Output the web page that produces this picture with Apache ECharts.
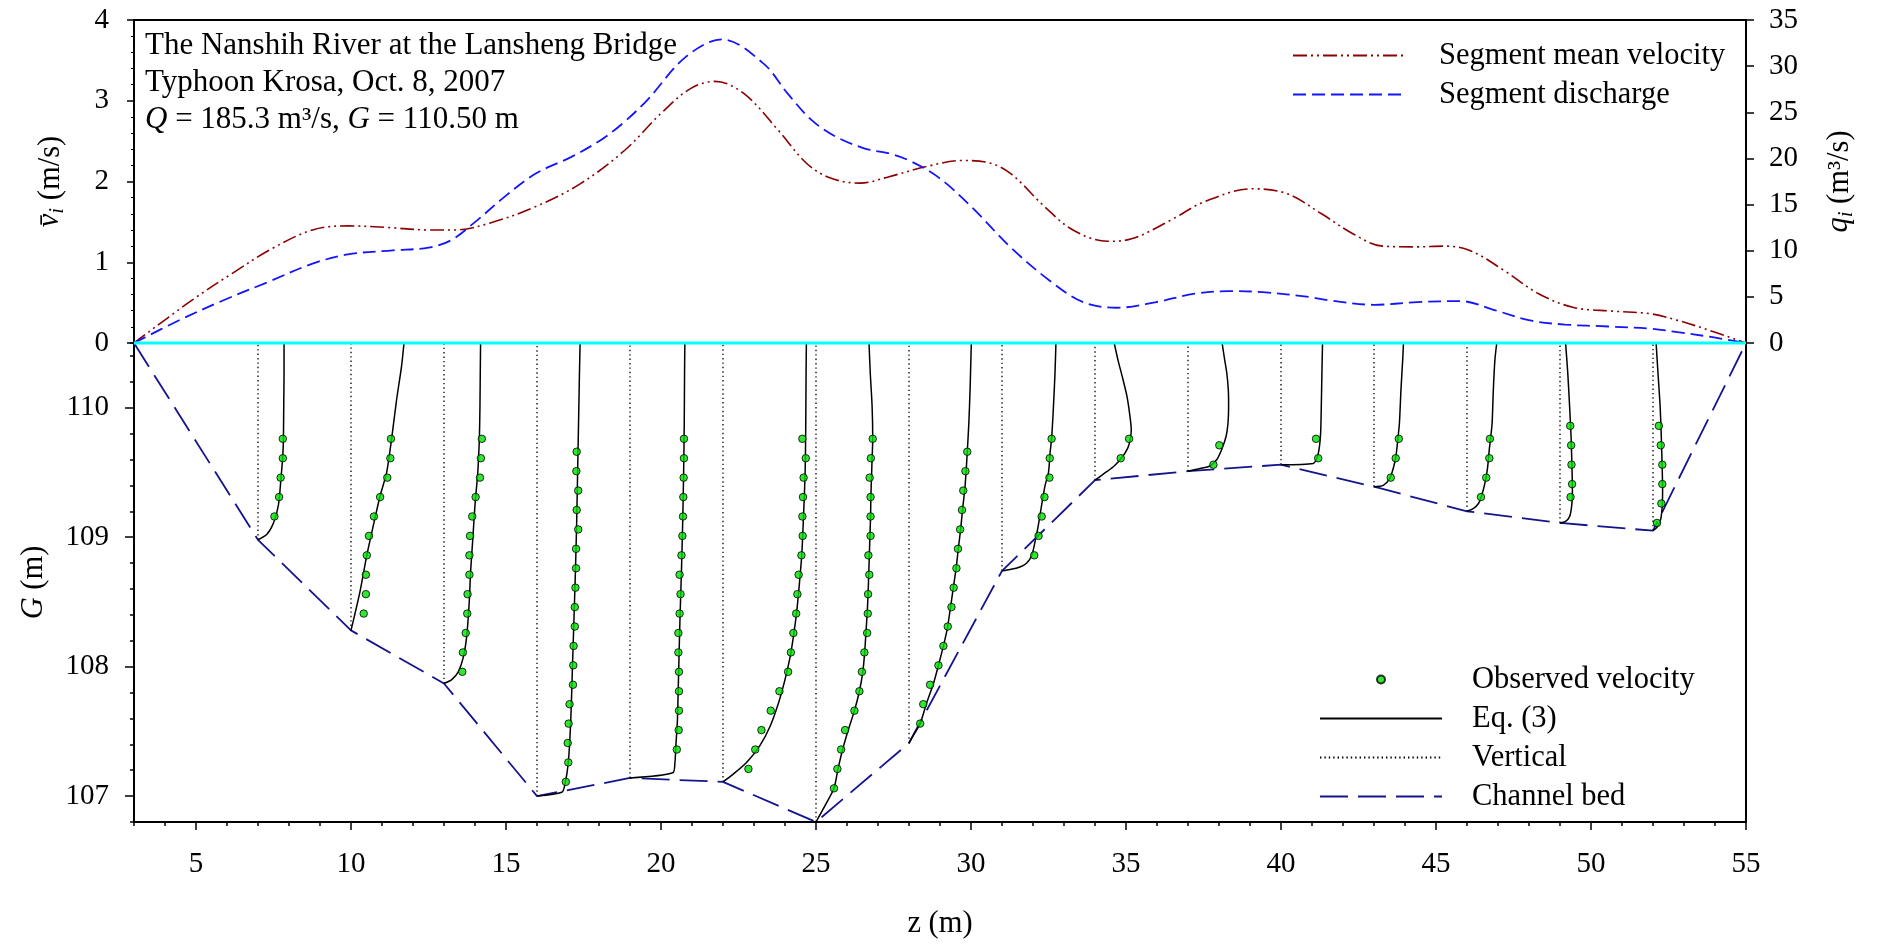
<!DOCTYPE html>
<html>
<head>
<meta charset="utf-8">
<script src="https://cdn.jsdelivr.net/npm/echarts@6.0.0/dist/echarts.min.js"></script>
<style>
  html, body { margin: 0; padding: 0; background: #fff; }
  #chart { width: 1881px; height: 944px; }
</style>
</head>
<body>
<div id="chart"></div>
<script>
// ---- Axis ranges and tick labels ----
const zRange = [3, 55];
const zLabels = [5, 10, 15, 20, 25, 30, 35, 40, 45, 50, 55];
const vRange = [0, 4];
const qRange = [0, 35];
const gRange = [106.8, 110.5];
const gLabels = [107, 108, 109, 110];
const waterLevel = 110.5;

// ---- Channel bed (z, G) ----
const bedZ = [3, 7, 10, 13, 16, 19, 22, 25, 28, 31, 34, 37, 40, 43, 46, 49, 52, 55];
const bedG = [110.5, 108.98, 108.28, 107.87, 107.0, 107.14, 107.11, 106.8, 107.41,
              108.74, 109.44, 109.51, 109.56, 109.39, 109.2, 109.11, 109.05, 110.5];

// ---- Measuring verticals ----
const verticalZ = [7, 10, 13, 16, 19, 22, 25, 28, 31, 34, 37, 40, 43, 46, 49, 52];

// ---- Segment mean velocity (m/s) along z ----
const meanVelZ = [3, 4.87, 6.16, 7.46, 8.76, 9.9, 11.21, 12.5, 13.36, 14.52, 15.96, 17.39, 18.84,
                  19.99, 20.95, 21.74, 22.67, 23.77, 24.71, 25.49, 26.42, 27.36, 28.61, 29.71,
                  30.49, 31.27, 32.37, 33.29, 34.4, 35.18, 36.44, 37.53, 39.08, 40.19, 41.31,
                  42.29, 43.27, 44.39, 45.24, 46.07, 47.19, 48.31, 49.44, 50.7, 51.96, 52.8, 53.64, 55];
const meanVel = [0, 0.53, 0.86, 1.17, 1.40, 1.45, 1.43, 1.40, 1.40, 1.49, 1.69, 1.97, 2.39,
                 2.84, 3.15, 3.24, 3.09, 2.64, 2.22, 2.04, 1.98, 2.06, 2.19, 2.26,
                 2.24, 2.10, 1.69, 1.40, 1.26, 1.29, 1.52, 1.75, 1.91, 1.85, 1.60,
                 1.36, 1.20, 1.19, 1.20, 1.15, 0.90, 0.61, 0.44, 0.395, 0.36, 0.28, 0.18, 0];

// ---- Segment discharge (m3/s) along z ----
const dischargeZ = [3, 4.44, 5.87, 7.32, 8.76, 9.9, 11.35, 12.5, 13.22, 13.94, 14.95, 15.96, 17.11,
                    18.05, 18.76, 19.55, 20.8, 21.97, 23.3, 24.08, 24.86, 25.65, 26.58, 27.36,
                    27.99, 28.93, 30.02, 31.27, 32.53, 33.62, 34.71, 35.97, 37.22, 38.31, 39.41,
                    40.94, 41.59, 43.0, 44.39, 45.79, 46.92, 48.03, 49.16, 50.56, 51.96, 52.8, 53.92, 55];
const discharge = [0, 2.44, 4.61, 6.6, 8.6, 9.6, 10.04, 10.33, 11.12, 12.93, 15.83, 18.36, 20.17,
                   21.98, 23.79, 26.3, 31.0, 32.9, 30.3, 27.05, 24.15, 22.34, 21.07, 20.53,
                   19.8, 18.0, 14.74, 10.4, 6.78, 4.43, 3.82, 4.43, 5.34, 5.62, 5.51,
                   4.97, 4.61, 4.14, 4.43, 4.54, 3.53, 2.44, 2.0, 1.79, 1.54, 1.17, 0.63, 0];

// ---- Velocity profiles by Eq. (3), drawn as (z, G) ----
const eq07 = [[7, 108.98], [7.28, 109.02], [7.5, 109.11], [7.66, 109.25], [7.74, 109.45], [7.8, 109.63], [7.82, 109.76], [7.83, 110.01], [7.84, 110.27], [7.84, 110.5]];
const eq10 = [[10, 108.28], [10.29, 108.58], [10.51, 108.86], [10.72, 109.09], [10.94, 109.32], [11.15, 109.5], [11.31, 109.76], [11.47, 110.06], [11.63, 110.32], [11.71, 110.5]];
const eq13 = [[13, 107.87], [13.25, 107.9], [13.46, 107.96], [13.62, 108.07], [13.73, 108.23], [13.81, 108.48], [13.86, 108.74], [13.93, 108.99], [14.0, 109.25], [14.09, 109.5], [14.14, 109.76], [14.16, 110.01], [14.17, 110.27], [14.18, 110.5]];
const eq16 = [[16, 107.0], [16.8, 107.03], [16.9, 107.09], [17.01, 107.26], [17.09, 107.59], [17.14, 107.97], [17.19, 108.35], [17.24, 108.74], [17.28, 109.12], [17.31, 109.5], [17.34, 109.88], [17.37, 110.27], [17.39, 110.5]];
const eq19 = [[19, 107.14], [20.38, 107.18], [20.45, 107.26], [20.48, 107.39], [20.53, 107.59], [20.57, 107.97], [20.61, 108.35], [20.66, 108.74], [20.7, 109.12], [20.73, 109.5], [20.75, 109.88], [20.76, 110.27], [20.77, 110.5]];
const eq22 = [[22, 107.11], [22.33, 107.17], [22.76, 107.26], [23.19, 107.39], [23.52, 107.54], [23.79, 107.72], [24.0, 107.9], [24.16, 108.07], [24.27, 108.23], [24.38, 108.43], [24.46, 108.63], [24.54, 108.86], [24.59, 109.12], [24.65, 109.5], [24.67, 109.88], [24.68, 110.27], [24.69, 110.5]];
const eq25 = [[25, 106.8], [25.3, 106.93], [25.58, 107.06], [25.71, 107.21], [25.86, 107.36], [26.04, 107.51], [26.24, 107.66], [26.4, 107.81], [26.51, 107.96], [26.57, 108.11], [26.61, 108.26], [26.65, 108.41], [26.68, 108.56], [26.7, 108.71], [26.72, 108.86], [26.74, 109.01], [26.76, 109.16], [26.77, 109.31], [26.79, 109.46], [26.81, 109.61], [26.83, 109.76], [26.81, 110.01], [26.75, 110.27], [26.71, 110.5]];
const eq28 = [[28, 107.41], [28.19, 107.49], [28.36, 107.56], [28.57, 107.72], [28.79, 107.87], [28.95, 108.01], [29.11, 108.16], [29.24, 108.3], [29.34, 108.46], [29.43, 108.61], [29.52, 108.76], [29.59, 108.91], [29.67, 109.07], [29.73, 109.22], [29.8, 109.37], [29.84, 109.5], [29.88, 109.66], [29.93, 109.88], [29.97, 110.14], [30.01, 110.5]];
const eq31 = [[31, 108.74], [31.26, 108.75], [31.58, 108.77], [31.8, 108.8], [31.96, 108.86], [32.07, 108.97], [32.17, 109.09], [32.28, 109.25], [32.39, 109.4], [32.5, 109.5], [32.55, 109.65], [32.6, 109.76], [32.66, 110.01], [32.71, 110.27], [32.74, 110.5]];
const eq34 = [[34, 109.44], [34.34, 109.5], [34.62, 109.55], [34.88, 109.62], [35.06, 109.69], [35.14, 109.76], [35.17, 109.83], [35.13, 109.93], [35.03, 110.09], [34.88, 110.24], [34.74, 110.37], [34.62, 110.5]];
const eq37 = [[37, 109.51], [37.39, 109.53], [37.71, 109.55], [37.93, 109.6], [38.09, 109.68], [38.23, 109.78], [38.29, 109.88], [38.31, 110.01], [38.3, 110.14], [38.25, 110.27], [38.17, 110.39], [38.1, 110.5]];
const eq40 = [[40, 109.56], [41.04, 109.57], [41.17, 109.62], [41.24, 109.7], [41.28, 109.81], [41.3, 110.01], [41.32, 110.27], [41.34, 110.5]];
const eq43 = [[43, 109.39], [43.3, 109.4], [43.5, 109.45], [43.62, 109.53], [43.71, 109.63], [43.77, 109.76], [43.82, 109.88], [43.87, 110.14], [43.93, 110.39], [43.95, 110.5]];
const eq46 = [[46, 109.2], [46.2, 109.22], [46.37, 109.26], [46.47, 109.32], [46.58, 109.42], [46.66, 109.53], [46.72, 109.68], [46.76, 109.76], [46.81, 109.88], [46.85, 110.14], [46.9, 110.37], [46.96, 110.5]];
const eq49 = [[49, 109.11], [49.17, 109.12], [49.31, 109.16], [49.38, 109.25], [49.4, 109.37], [49.39, 109.5], [49.36, 109.76], [49.31, 110.01], [49.25, 110.27], [49.18, 110.5]];
const eq52 = [[52, 109.05], [52.14, 109.08], [52.25, 109.14], [52.3, 109.25], [52.31, 109.37], [52.3, 109.5], [52.27, 109.76], [52.23, 110.01], [52.16, 110.27], [52.1, 110.5]];

// ---- Observed point velocities, drawn as (z, G) ----
const obs07 = [[7.8, 109.76], [7.8, 109.61], [7.73, 109.46], [7.68, 109.31], [7.53, 109.16]];
const obs10 = [[11.29, 109.76], [11.27, 109.61], [11.17, 109.46], [10.94, 109.31], [10.74, 109.16], [10.58, 109.01], [10.51, 108.86], [10.48, 108.71], [10.48, 108.56], [10.41, 108.41]];
const obs13 = [[14.22, 109.76], [14.19, 109.61], [14.16, 109.46], [14.02, 109.31], [13.91, 109.16], [13.84, 109.01], [13.82, 108.86], [13.82, 108.71], [13.76, 108.56], [13.75, 108.41], [13.7, 108.26], [13.61, 108.11], [13.59, 107.96]];
const obs16 = [[17.28, 109.66], [17.27, 109.51], [17.33, 109.36], [17.28, 109.21], [17.33, 109.06], [17.26, 108.91], [17.26, 108.76], [17.24, 108.61], [17.22, 108.46], [17.22, 108.31], [17.18, 108.16], [17.17, 108.01], [17.16, 107.86], [17.05, 107.71], [17.02, 107.56], [16.99, 107.41], [17.01, 107.26], [16.93, 107.11]];
const obs19 = [[20.74, 109.76], [20.74, 109.61], [20.73, 109.46], [20.72, 109.31], [20.71, 109.16], [20.69, 109.01], [20.66, 108.86], [20.6, 108.71], [20.63, 108.56], [20.6, 108.41], [20.56, 108.26], [20.56, 108.11], [20.58, 107.96], [20.58, 107.81], [20.58, 107.66], [20.57, 107.51], [20.51, 107.36]];
const obs22 = [[24.56, 109.76], [24.67, 109.61], [24.6, 109.46], [24.58, 109.31], [24.56, 109.16], [24.57, 109.01], [24.53, 108.86], [24.44, 108.71], [24.4, 108.56], [24.36, 108.41], [24.27, 108.26], [24.19, 108.11], [24.1, 107.96], [23.82, 107.81], [23.54, 107.66], [23.24, 107.51], [23.04, 107.36], [22.82, 107.21]];
const obs25 = [[26.83, 109.76], [26.77, 109.61], [26.73, 109.46], [26.76, 109.31], [26.76, 109.16], [26.76, 109.01], [26.69, 108.86], [26.72, 108.71], [26.68, 108.56], [26.67, 108.41], [26.65, 108.26], [26.56, 108.11], [26.48, 107.96], [26.4, 107.81], [26.24, 107.66], [25.94, 107.51], [25.81, 107.36], [25.69, 107.21], [25.58, 107.06]];
const obs28 = [[29.88, 109.66], [29.82, 109.51], [29.75, 109.36], [29.71, 109.21], [29.65, 109.06], [29.58, 108.91], [29.53, 108.76], [29.44, 108.61], [29.37, 108.46], [29.25, 108.31], [29.11, 108.16], [28.95, 108.01], [28.68, 107.86], [28.46, 107.71], [28.36, 107.56]];
const obs31 = [[32.6, 109.76], [32.54, 109.61], [32.53, 109.46], [32.37, 109.31], [32.28, 109.16], [32.18, 109.01], [32.04, 108.86]];
const obs34 = [[35.1, 109.76], [34.83, 109.61]];
const obs37 = [[38.01, 109.71], [37.82, 109.56]];
const obs40 = [[41.13, 109.76], [41.2, 109.61]];
const obs43 = [[43.8, 109.76], [43.7, 109.61], [43.54, 109.46]];
const obs46 = [[46.74, 109.76], [46.72, 109.61], [46.62, 109.46], [46.45, 109.31]];
const obs49 = [[49.33, 109.86], [49.36, 109.71], [49.37, 109.56], [49.39, 109.41], [49.34, 109.31]];
const obs52 = [[52.19, 109.86], [52.25, 109.71], [52.3, 109.56], [52.3, 109.41], [52.27, 109.26], [52.13, 109.11]];

const eqCurves = [eq07, eq10, eq13, eq16, eq19, eq22, eq25, eq28, eq31, eq34, eq37, eq40, eq43, eq46, eq49, eq52];
const observed = [obs07, obs10, obs13, obs16, obs19, obs22, obs25, obs28, obs31, obs34, obs37, obs40, obs43, obs46, obs49, obs52];

// ---- Styling ----
const FONT = 'Liberation Serif';
const FS_TICK = 29;   // tick numbers
const FS = 30.5;      // legend, axis names
const FS_TITLE = 31;  // annotation block
const black = '#000';
const tickTxt = { fontFamily: FONT, fontSize: FS_TICK, color: black };
const txt = { fontFamily: FONT, fontSize: FS, color: black };
const noSymbolStyle = { color: 'rgba(0,0,0,0)' };   // keeps legend icons as plain lines

const chart = echarts.init(document.getElementById('chart'), null, { renderer: 'canvas' });

const pairs = (xs, ys) => xs.map((x, i) => [x, ys[i]]);
const bedAt = z => bedG[bedZ.indexOf(z)];

const series = [];

// upper panel
series.push({
  name: 'Segment mean velocity', type: 'line', xAxisIndex: 0, yAxisIndex: 0,
  data: pairs(meanVelZ, meanVel), smooth: 0.35, symbol: 'none', z: 3,
  itemStyle: noSymbolStyle,
  lineStyle: { color: '#8b0000', width: 1.6, type: [14, 4, 2, 4, 2, 4] }
});
series.push({
  name: 'Segment discharge', type: 'line', xAxisIndex: 0, yAxisIndex: 1,
  data: pairs(dischargeZ, discharge), smooth: 0.35, symbol: 'none', z: 3,
  itemStyle: noSymbolStyle,
  lineStyle: { color: '#1414ff', width: 1.8, type: [13, 6] }
});

// lower panel: verticals
verticalZ.forEach(z => {
  series.push({
    name: 'Vertical', type: 'line', xAxisIndex: 1, yAxisIndex: 2,
    data: [[z, bedAt(z)], [z, waterLevel]], symbol: 'none', silent: true, z: 1,
    itemStyle: noSymbolStyle,
    lineStyle: { color: black, width: 1.3, type: [1.4, 3] }
  });
});

// channel bed
series.push({
  name: 'Channel bed', type: 'line', xAxisIndex: 1, yAxisIndex: 2,
  data: pairs(bedZ, bedG), symbol: 'none', z: 2, clip: false,
  itemStyle: noSymbolStyle,
  lineStyle: { color: '#14148c', width: 1.8, type: [28, 10] }
});

// Eq. (3) profiles
eqCurves.forEach(c => {
  series.push({
    name: 'Eq. (3)', type: 'line', xAxisIndex: 1, yAxisIndex: 2,
    data: c, smooth: 0.25, symbol: 'none', z: 3,
    itemStyle: noSymbolStyle,
    lineStyle: { color: black, width: 1.5 }
  });
});

// observed velocities
series.push({
  name: 'Observed velocity', type: 'scatter', xAxisIndex: 1, yAxisIndex: 2,
  data: [].concat(...observed), symbol: 'circle', symbolSize: 7.5, z: 4,
  itemStyle: { color: '#00e000', borderColor: black, borderWidth: 1 }
});

// water surface
series.push({
  name: 'Water surface', type: 'line', xAxisIndex: 1, yAxisIndex: 2,
  data: [[zRange[0], waterLevel], [zRange[1], waterLevel]], symbol: 'none', silent: true, z: 6, clip: false,
  lineStyle: { color: '#00ffff', width: 3 }
});

const axisLine = { show: true, onZero: false, lineStyle: { color: black, width: 2 } };
const tickStyle = { color: black, width: 1.5 };

const richName = {
  v: { fontFamily: FONT, fontSize: FS, fontStyle: 'italic', color: black, lineHeight: 31, verticalAlign: 'top' },
  sub: { fontFamily: FONT, fontSize: 21, fontStyle: 'italic', color: black, lineHeight: 21, padding: [12, 0, 0, 0], verticalAlign: 'top' },
  t: { fontFamily: FONT, fontSize: FS, color: black, lineHeight: 31, verticalAlign: 'top' }
};

const option = {
  animation: false,
  backgroundColor: '#fff',
  title: {
    left: 145, top: 27, padding: 0,
    text: 'The Nanshih River at the Lansheng Bridge\nTyphoon Krosa, Oct. 8, 2007\n{i|Q} = 185.3 m³/s, {i|G} = 110.50 m',
    textStyle: {
      fontFamily: FONT, fontSize: FS_TITLE, fontWeight: 'normal', color: black, lineHeight: 37,
      rich: { i: { fontFamily: FONT, fontSize: FS_TITLE, fontStyle: 'italic', color: black, lineHeight: 37 } }
    }
  },
  legend: [
    {
      data: ['Segment mean velocity', 'Segment discharge'], orient: 'vertical',
      left: 1292, top: 40, padding: 0, itemWidth: 112, itemHeight: 8, itemGap: 8,
      selectedMode: false,
      textStyle: Object.assign({}, txt, { padding: [0, 0, 0, 29] })
    },
    {
      data: ['Observed velocity', 'Eq. (3)', 'Vertical', 'Channel bed'], orient: 'vertical',
      left: 1319, top: 664, padding: 0, itemWidth: 122, itemHeight: 8, itemGap: 8,
      selectedMode: false,
      textStyle: Object.assign({}, txt, { padding: [0, 0, 0, 25] })
    }
  ],
  grid: [
    { left: 134, right: 135, top: 20, height: 323 },
    { left: 134, right: 135, top: 343, height: 484 }
  ],
  xAxis: [
    { gridIndex: 0, type: 'value', min: zRange[0], max: zRange[1], position: 'top',
      axisLine: axisLine, axisTick: { show: false }, axisLabel: { show: false }, splitLine: { show: false } },
    { gridIndex: 1, type: 'value', min: zRange[0], max: zRange[1], position: 'bottom',
      axisLine: axisLine,
      axisTick: { show: true, customValues: zLabels, length: 8, lineStyle: tickStyle },
      axisLabel: Object.assign({ customValues: zLabels, margin: 28 }, tickTxt),
      splitLine: { show: false },
      name: 'z (m)', nameLocation: 'middle', nameGap: 86, nameTextStyle: txt },
    { gridIndex: 1, type: 'value', min: zRange[0], max: zRange[1], interval: 1, position: 'bottom',
      axisLine: { show: false, onZero: false },
      axisTick: { show: true, length: 4, lineStyle: tickStyle },
      axisLabel: { show: false }, splitLine: { show: false } }
  ],
  yAxis: [
    { gridIndex: 0, type: 'value', min: vRange[0], max: vRange[1], interval: 1, position: 'left',
      axisLine: axisLine,
      axisTick: { show: true, length: 7, lineStyle: tickStyle },
      minorTick: { show: true, splitNumber: 5, length: 3, lineStyle: { color: black, width: 1 } },
      axisLabel: Object.assign({ margin: 25 }, tickTxt), splitLine: { show: false },
      name: '{v|v̄}{sub|i}{t| (m/s)}', nameLocation: 'middle', nameGap: 68, nameRotate: 90,
      nameTextStyle: Object.assign({}, txt, { rich: richName }) },
    { gridIndex: 0, type: 'value', min: qRange[0], max: qRange[1], interval: 5, position: 'right',
      axisLine: axisLine,
      axisTick: { show: true, length: 8, lineStyle: tickStyle },
      axisLabel: Object.assign({ margin: 23 }, tickTxt), splitLine: { show: false },
      name: '{v|q}{sub|i}{t| (m³/s)}', nameLocation: 'middle', nameGap: 78, nameRotate: 90,
      nameTextStyle: Object.assign({}, txt, { rich: richName }) },
    { gridIndex: 1, type: 'value', min: gRange[0], max: gRange[1], position: 'left',
      axisLine: axisLine,
      axisTick: { show: true, customValues: gLabels, length: 9, lineStyle: tickStyle },
      axisLabel: Object.assign({ customValues: gLabels, margin: 25 }, tickTxt), splitLine: { show: false },
      name: '{v|G}{t| (m)}', nameLocation: 'middle', nameGap: 85, nameRotate: 90,
      nameTextStyle: Object.assign({}, txt, { rich: {
        v: { fontFamily: FONT, fontSize: FS, fontStyle: 'italic', color: black },
        t: { fontFamily: FONT, fontSize: FS, color: black }
      } }) },
    { gridIndex: 1, type: 'value', min: gRange[0], max: gRange[1], interval: 0.2, position: 'left',
      axisLine: { show: false, onZero: false },
      axisTick: { show: true, length: 4, lineStyle: tickStyle },
      axisLabel: { show: false }, splitLine: { show: false } },
    { gridIndex: 1, type: 'value', min: gRange[0], max: gRange[1], position: 'right',
      axisLine: axisLine, axisTick: { show: false }, axisLabel: { show: false }, splitLine: { show: false } }
  ],
  series: series
};

chart.setOption(option);
</script>
</body>
</html>
